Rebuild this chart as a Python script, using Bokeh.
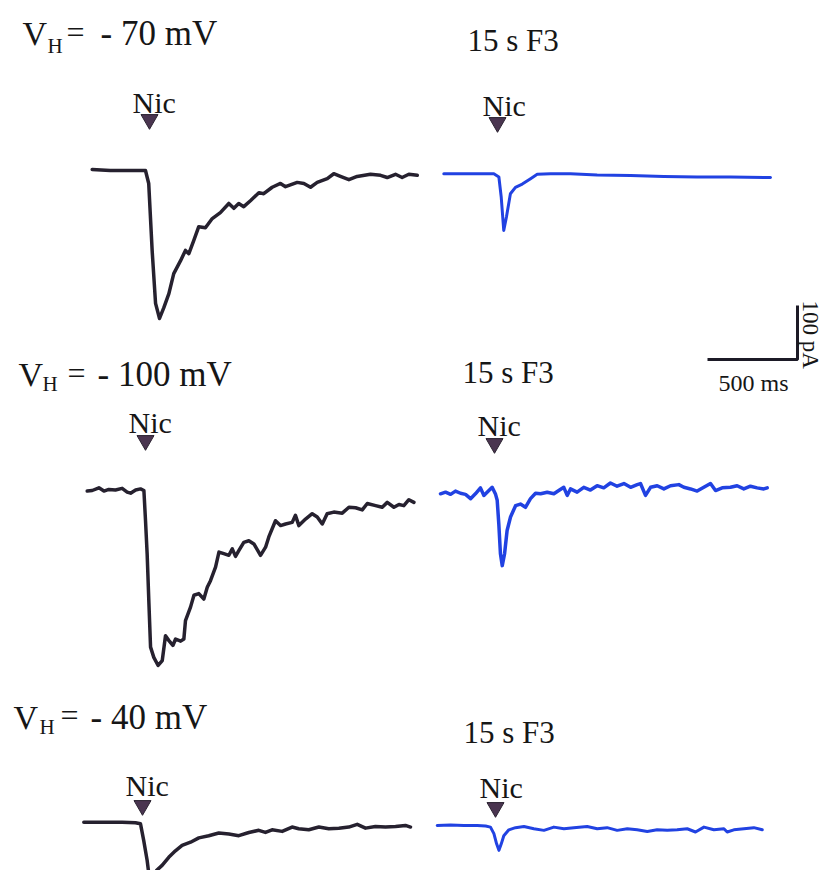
import math
from bokeh.plotting import figure
from bokeh.models import Range1d
from bokeh.core.properties import value
from bokeh.embed import file_html
from bokeh.resources import INLINE

# ---------------- data (time in ms from trace start, current in pA from baseline) -------------
t_m70_ctrl = [0, 100, 213, 296, 314, 333, 352, 374, 398, 426, 453, 491, 518, 537, 564, 592, 629, 667, 712, 759,
              787, 814, 842, 879, 926, 953, 1000, 1046, 1074, 1139, 1176, 1213, 1250, 1306, 1342, 1379, 1426,
              1472, 1546, 1602, 1639, 1685, 1722, 1759, 1806]
i_m70_ctrl = [2, 0, 0, 0, -24, -148, -246, -274, -254, -228, -191, -167, -148, -154, -130, -104, -106, -89, -78, -61,
              -70, -61, -67, -56, -41, -43, -31, -24, -30, -22, -24, -31, -22, -15, -6, -11, -17,
              -11, -7, -9, -13, -7, -13, -7, -9]

t_m70_f3 = [0, 185, 278, 306, 319, 333, 348, 370, 398, 436, 482, 519, 593, 704, 852, 1037, 1222, 1407, 1593, 1815]
i_m70_f3 = [0, 0, 0, -6, -43, -105, -80, -37, -25, -19, -9, -1, 0, 0, -2, -3, -5, -6, -6, -7]

t_m100_ctrl = [0, 28, 65, 93, 120, 157, 194, 222, 241, 269, 296, 315, 324, 333, 343, 352, 370, 394, 417, 435,
               454, 476, 491, 519, 537, 546, 574, 593, 620, 648, 667, 685, 713, 732, 759, 787, 806, 824, 843,
               870, 898, 926, 963, 991, 1009, 1046, 1074, 1102, 1139, 1157, 1176, 1213, 1250, 1278, 1306, 1333,
               1370, 1417, 1454, 1491, 1528, 1556, 1602, 1639, 1667, 1704, 1732, 1759, 1787, 1815]
i_m100_ctrl = [-1, 0, 5, -1, 2, 1, 4, -3, -5, 1, 3, 0, -56, -117, -210, -290, -309, -324, -315, -269,
               -278, -287, -275, -279, -275, -241, -216, -194, -191, -201, -179, -167, -142, -114, -117, -120, -108, -122, -111,
               -96, -93, -99, -120, -105, -86, -56, -65, -62, -59, -46, -65, -53, -43, -49, -62, -43,
               -40, -42, -31, -32, -36, -24, -28, -31, -22, -31, -26, -28, -17, -22]

t_m100_f3 = [0, 28, 56, 83, 111, 139, 167, 194, 222, 241, 259, 287, 306, 315, 324, 333, 343, 356, 370, 389,
             417, 444, 472, 500, 528, 556, 593, 630, 657, 685, 704, 722, 759, 796, 833, 870, 907, 944, 981,
             1019, 1056, 1093, 1111, 1139, 1167, 1204, 1241, 1278, 1324, 1352, 1389, 1426, 1463, 1500, 1528,
             1565, 1611, 1648, 1685, 1722, 1759, 1796, 1815]
i_m100_f3 = [0, 3, -1, 5, 1, -1, -9, 0, 11, -3, 3, 12, -1, -12, -56, -111, -133, -111, -68, -43,
             -22, -19, -25, -9, 1, 0, 3, 0, 6, 12, -3, 9, 3, 12, 7, 15, 11, 20, 14,
             19, 12, 17, 19, -3, 12, 15, 9, 15, 17, 12, 9, 5, 12, 19, 6,
             11, 12, 15, 9, 14, 11, 9, 11]

t_m40_ctrl = [0, 65, 139, 213, 287, 315, 333, 352, 361, 372, 388, 405, 435, 472, 509, 546, 593, 639, 694, 750,
              806, 861, 917, 972, 1009, 1046, 1102, 1157, 1194, 1250, 1306, 1361, 1417, 1472, 1519, 1565,
              1620, 1676, 1732, 1787, 1815]
i_m40_ctrl = [0, 0, 0, 0, -1, -3, -34, -71, -95, -108, -103, -89, -80, -65, -53, -43, -37, -29, -25, -20,
              -22, -25, -19, -15, -19, -14, -17, -9, -12, -14, -9, -12, -11, -9, -4, -11,
              -8, -9, -8, -6, -9]

t_m40_f3 = [0, 74, 148, 222, 269, 296, 315, 330, 343, 356, 370, 398, 435, 482, 537, 593, 648, 704, 759, 833,
            889, 944, 1000, 1056, 1111, 1167, 1222, 1278, 1333, 1389, 1435, 1482, 1537, 1593, 1611, 1648,
            1704, 1759, 1806]
i_m40_f3 = [0, 1, 0, 0, -1, -3, -15, -34, -46, -34, -19, -8, -4, -2, -6, -9, -3, -6, -4, -2,
            -6, -4, -9, -6, -8, -11, -8, -9, -8, -6, -12, -3, -8, -6, -12, -8,
            -6, -4, -8]

row_labels = ["- 70 mV", "- 100 mV", "- 40 mV"]
f3_label = "15 s F3"
drug_label = "Nic"
scale_ms = 500
scale_pa = 100

# ---------------- layout (pixel geometry of the page) ----------------
W, H = 825, 870
MS_PER_PX = 500 / 90.0
PA_PER_PX = 100 / 54.0
TEXT_DY = -10  # baseline correction for text rendering


def X(px):
    return px * MS_PER_PX


def Y(py):
    return -py * PA_PER_PX


p = figure(width=W, height=H, output_backend="svg", toolbar_location=None,
           x_range=Range1d(0, X(W)), y_range=Range1d(Y(H), 0),
           x_axis_type=None, y_axis_type=None, min_border=0,
           outline_line_color=None, background_fill_color="white", border_fill_color="white")
p.grid.visible = False

BLACK = "#26212f"
BLUE = "#2142e2"

traces = [
    (t_m70_ctrl, i_m70_ctrl, (91.7, 170.0), BLACK, 3.5),
    (t_m70_f3, i_m70_f3, (443.3, 173.3), BLUE, 3),
    (t_m100_ctrl, i_m100_ctrl, (86.7, 490.0), BLACK, 3.5),
    (t_m100_f3, i_m100_f3, (440.0, 493.3), BLUE, 3.5),
    (t_m40_ctrl, i_m40_ctrl, (83.3, 821.7), BLACK, 3.5),
    (t_m40_f3, i_m40_f3, (436.7, 825.0), BLUE, 3),
]
for ts, cs, (ox, oy), col, lw in traces:
    p.line([X(ox) + t for t in ts], [Y(oy) + c for c in cs], line_color=col, line_width=lw,
           line_join="round", line_cap="round")

# scale bar
cx, cy = X(797), Y(359)
p.line([cx - scale_ms, cx, cx], [cy, cy, cy + scale_pa], line_color="#1c1a26", line_width=3)

# arrows (drug application)
arrow_px = [(149, 119), (497, 122), (145, 440), (494, 443), (142, 805), (495, 807)]
p.scatter([X(a) for a, b in arrow_px], [Y(b) for a, b in arrow_px], marker="inverted_triangle",
          size=17, fill_color="#4a3550", line_color="#2a2230", line_width=1)

SERIF = value("Liberation Serif")
TXT = "#161616"


def txt(items, size, angle=0.0, align="left", dy=TEXT_DY):
    p.text(x=[X(a) for a, b, s in items], y=[Y(b + dy) for a, b, s in items], text=[s for a, b, s in items],
           text_font=SERIF, text_font_size=value(size), text_color=TXT, angle=angle,
           text_align=align, text_baseline="alphabetic")


# V_H labels
txt([(22, 43, "V"), (18, 384, "V"), (13, 727, "V")], "34px")
txt([(47, 55, "H"), (42, 393, "H"), (39, 736, "H")], "21px")
txt([(66, 41, "="), (67, 382, "="), (60, 724, "=")], "32px")
txt([(100, 43, row_labels[0]), (97, 384, row_labels[1]), (90, 727, row_labels[2])], "35px")

# 15 s F3 labels
txt([(467, 50, f3_label), (462, 382, f3_label), (463, 742, f3_label)], "31px")

# Nic labels
txt([(132, 112, drug_label), (482, 115, drug_label), (128, 432, drug_label),
     (477, 435, drug_label), (125, 795, drug_label), (479, 797, drug_label)], "30px")

# scale bar labels
txt([(718, 392, "500 ms")], "24px")
txt([(810, 300, "100 pA")], "23px", angle=-math.pi / 2, dy=0)

open("out.html", "w").write(file_html(p, INLINE))
